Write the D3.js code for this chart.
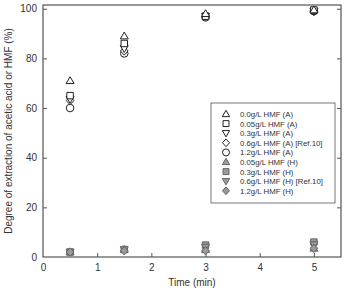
<!DOCTYPE html>
<html><head><meta charset="utf-8">
<script src="https://cdn.jsdelivr.net/npm/d3@7"></script>
<style>body{margin:0;background:#fff}svg{display:block}</style>
</head><body>
<script>
const times = [0.5, 1.5, 3, 5];
const seriesNames = ["0.0g/L HMF (A)","0.05g/L HMF (A)","0.3g/L HMF (A)","0.6g/L HMF (A) [Ref.10]","1.2g/L HMF (A)","0.05g/L HMF (H)","0.3g/L HMF (H)","0.6g/L HMF (H) [Ref.10]","1.2g/L HMF (H)"];
const seriesShapes = ["triUp","square","triDown","diamond","circle","triUp","square","triDown","diamond"];
const seriesFilled = [false,false,false,false,false,true,true,true,true];
const a00 = [71, 89, 98, 99.5];
const a005 = [65, 86, 97, 99.5];
const a03 = [63.5, 84, 97, 99];
const a06 = [63, 83, 97, 99];
const a12 = [60, 82, 96.5, 99];
const h005 = [2, 3, 3, 3.5];
const h03 = [2, 3, 4.8, 6];
const h06 = [2, 3, 4, 5];
const h12 = [2, 2.5, 2.5, 3.5];
const seriesValues = [a00,a005,a03,a06,a12,h005,h03,h06,h12];
const xTicks = [0,1,2,3,4,5];
const yTicks = [0,20,40,60,80,100];

const W=349,H=290, L=43,R=341,T=5,B=257;
const svg=d3.select("body").append("svg").attr("width",W).attr("height",H);
const x=d3.scaleLinear().domain([0,5.5]).range([L,R]);
const y=d3.scaleLinear().domain([0,101.5]).range([B,T]);
const frame="#555", txt="#333";
const font="'Liberation Sans', Arial, sans-serif";

function shapePath(s, r){
  if(s==="triUp") return `M0,${-r*1.05}L${r*1.05},${r*0.75}L${-r*1.05},${r*0.75}Z`;
  if(s==="triDown") return `M0,${r*1.05}L${r*1.05},${-r*0.75}L${-r*1.05},${-r*0.75}Z`;
  if(s==="square") return `M${-r*0.85},${-r*0.85}H${r*0.85}V${r*0.85}H${-r*0.85}Z`;
  if(s==="diamond") return `M0,${-r*1.1}L${r*1.0},0L0,${r*1.1}L${-r*1.0},0Z`;
  return d3.arc()({innerRadius:0,outerRadius:r,startAngle:0,endAngle:2*Math.PI});
}

// axes
const gx=svg.append("g").attr("transform",`translate(0,${B})`)
  .call(d3.axisBottom(x).tickValues(xTicks).tickSizeInner(-4).tickSizeOuter(0).tickPadding(7).tickFormat(d3.format("d")));
const gy=svg.append("g").attr("transform",`translate(${L},0)`)
  .call(d3.axisLeft(y).tickValues(yTicks).tickSizeInner(-4).tickSizeOuter(0).tickPadding(6));
const gr=svg.append("g").attr("transform",`translate(${R},0)`)
  .call(d3.axisRight(y).tickValues(yTicks).tickSizeInner(-4).tickSizeOuter(0).tickFormat(""));
[gx,gy,gr].forEach(g=>{
  g.select(".domain").remove();
  g.selectAll("line").attr("stroke",frame);
  g.selectAll("text").attr("fill",txt).style("font-family",font).style("font-size","10px");
});
gx.selectAll(".tick").filter(d=>d===0).select("line").remove();
gy.selectAll(".tick").filter(d=>d===0).select("line").remove();
gr.selectAll(".tick").filter(d=>d===0).select("line").remove();

svg.append("rect").attr("x",L).attr("y",T).attr("width",R-L).attr("height",B-T)
  .attr("fill","none").attr("stroke",frame).attr("stroke-width",1.2);

// titles
svg.append("text").attr("transform",`translate(12,${(T+B)/2}) rotate(-90)`)
  .attr("text-anchor","middle").attr("fill",txt).style("font-family",font).style("font-size","10px")
  .text("Degree of extraction of acetic acid or HMF (%)");
svg.append("text").attr("x",(L+R)/2).attr("y",286).attr("text-anchor","middle")
  .attr("fill",txt).style("font-family",font).style("font-size","10px").text("Time (min)");

// data (H first, then A on top)
const order=[5,6,7,8,4,3,2,1,0];
order.forEach(i=>{
  svg.append("g").selectAll("path").data(seriesValues[i].map((v,j)=>({t:times[j],v}))).join("path")
    .attr("transform",d=>`translate(${x(d.t)},${y(d.v)})`)
    .attr("d",shapePath(seriesShapes[i],3.8))
    .attr("fill",seriesFilled[i]?"#9a9a9a":"#fff")
    .attr("stroke",seriesFilled[i]?"#666":"#222")
    .attr("stroke-width",1);
});

// legend
const lg=svg.append("g");
lg.append("rect").attr("x",211).attr("y",103).attr("width",124).attr("height",100)
  .attr("fill","#fff").attr("stroke",frame).attr("stroke-width",0.8);
seriesNames.forEach((n,i)=>{
  const yy=114+i*9.6;
  lg.append("path").attr("transform",`translate(226,${yy})`).attr("d",shapePath(seriesShapes[i],3.5))
    .attr("fill",seriesFilled[i]?"#9a9a9a":"#fff").attr("stroke",seriesFilled[i]?"#666":"#222").attr("stroke-width",1);
  lg.append("text").attr("x",240).attr("y",yy+3).attr("fill",txt)
    .style("font-family",font).style("font-size","7.8px").text(n);
});
</script>
</body></html>
